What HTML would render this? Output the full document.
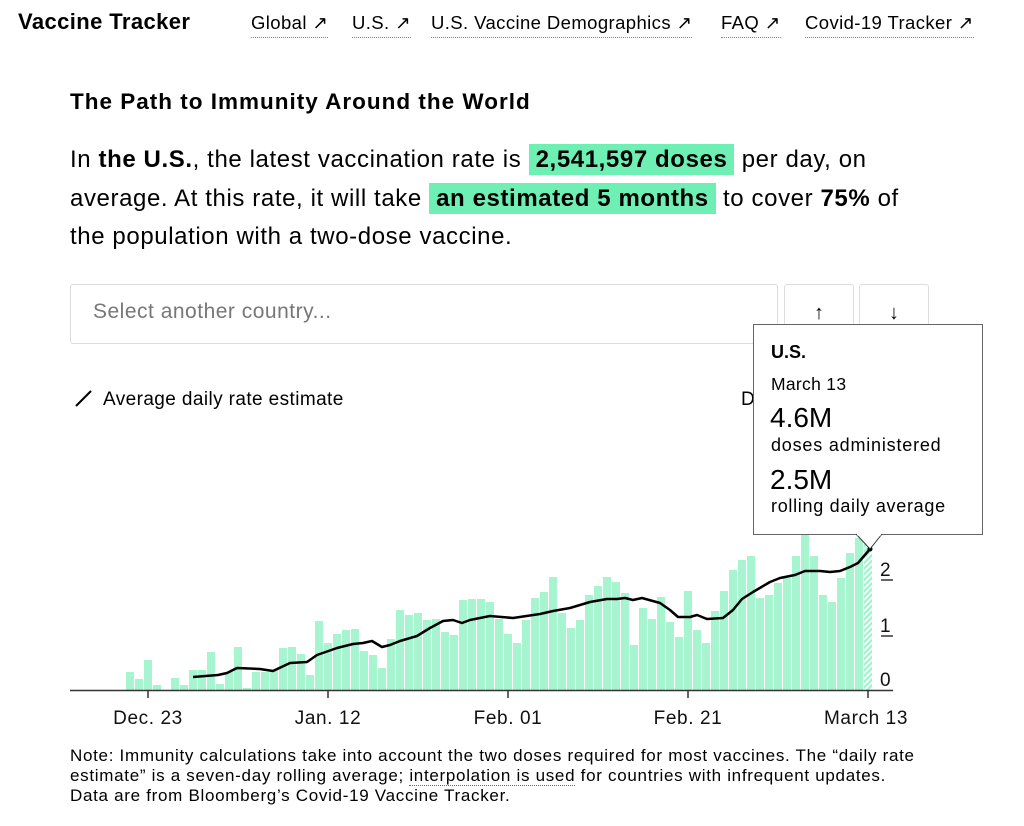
<!DOCTYPE html>
<html><head><meta charset="utf-8"><style>
body{margin:0;width:1024px;height:826px;background:#fff;font-family:"Liberation Sans",sans-serif;color:#000;position:relative;overflow:hidden}
.a{position:absolute;white-space:nowrap}
.nav{top:12px;font-size:18.5px;border-bottom:1px dotted #888;padding-bottom:3px;letter-spacing:0.4px}
.hl{background:#6ef0b4;font-weight:bold;padding:2px 7px}
.box{position:absolute;border:1px solid #ddd;border-radius:3px;background:#fff}
</style></head><body>
<div class="a" style="left:18px;top:9px;font-size:22px;font-weight:bold;letter-spacing:0.4px">Vaccine Tracker</div>
<div class="a nav" style="left:251px">Global ↗</div>
<div class="a nav" style="left:352px">U.S. ↗</div>
<div class="a nav" style="left:431px">U.S. Vaccine Demographics ↗</div>
<div class="a nav" style="left:721px">FAQ ↗</div>
<div class="a nav" style="left:805px">Covid-19 Tracker ↗</div>
<div class="a" style="left:70px;top:89px;font-size:22.5px;font-weight:bold;letter-spacing:1px">The Path to Immunity Around the World</div>
<div class="a" style="left:70px;top:141px;font-size:24px;line-height:38.5px;letter-spacing:0.6px">In <b>the U.S.</b>, the latest vaccination rate is <span class="hl">2,541,597 doses</span> per day, on<br>average. At this rate, it will take <span class="hl">an estimated 5 months</span> to cover <b>75%</b> of<br>the population with a two-dose vaccine.</div>
<div class="box" style="left:70px;top:284px;width:706px;height:58px"></div>
<div class="a" style="left:93px;top:300px;font-size:21px;color:#777;letter-spacing:0.5px">Select another country...</div>
<div class="box" style="left:784px;top:284px;width:68px;height:58px;text-align:center;font-size:20px;font-weight:bold;line-height:56px">↑</div>
<div class="box" style="left:859px;top:284px;width:68px;height:58px;text-align:center;font-size:20px;font-weight:bold;line-height:56px">↓</div>
<div class="a" style="left:103px;top:389px;font-size:19px;letter-spacing:0.4px">Average daily rate estimate</div>
<div class="a" style="left:741px;top:389px;font-size:19px">D</div>
<svg class="a" style="left:0;top:0" width="1024" height="826">
<line x1="76" y1="406" x2="91" y2="391" stroke="#000" stroke-width="2"/>
<defs><pattern id="h" width="4" height="4" patternUnits="userSpaceOnUse" patternTransform="rotate(45)"><rect width="2.2" height="4" fill="#9af5cb"/></pattern></defs>
<g fill="#a6f5d0">
<rect x="126" y="672" width="8" height="18"/><rect x="135" y="679" width="8" height="11"/><rect x="144" y="660" width="8" height="30"/><rect x="153" y="685" width="8" height="5"/>
<rect x="171" y="678" width="8" height="12"/><rect x="180" y="685" width="8" height="5"/><rect x="189" y="670" width="8" height="20"/><rect x="198" y="670" width="8" height="20"/><rect x="207" y="652" width="8" height="38"/><rect x="216" y="684" width="8" height="6"/><rect x="225" y="672" width="8" height="18"/><rect x="234" y="647" width="8" height="43"/><rect x="243" y="688" width="8" height="2"/><rect x="252" y="672" width="8" height="18"/><rect x="261" y="672" width="8" height="18"/><rect x="270" y="670" width="8" height="20"/><rect x="279" y="648" width="8" height="42"/><rect x="288" y="647" width="8" height="43"/><rect x="297" y="654" width="8" height="36"/><rect x="306" y="675" width="8" height="15"/><rect x="315" y="621" width="8" height="69"/><rect x="324" y="643" width="8" height="47"/><rect x="333" y="634" width="8" height="56"/><rect x="342" y="630" width="8" height="60"/><rect x="351" y="629" width="8" height="61"/><rect x="360" y="651" width="8" height="39"/><rect x="369" y="655" width="8" height="35"/><rect x="378" y="668" width="8" height="22"/><rect x="387" y="639" width="8" height="51"/><rect x="396" y="610" width="8" height="80"/><rect x="405" y="615" width="8" height="75"/><rect x="414" y="613" width="8" height="77"/><rect x="423" y="620" width="8" height="70"/><rect x="432" y="619" width="8" height="71"/><rect x="441" y="632" width="8" height="58"/><rect x="450" y="635" width="8" height="55"/><rect x="459" y="600" width="8" height="90"/><rect x="468" y="599" width="8" height="91"/><rect x="477" y="599" width="8" height="91"/><rect x="486" y="602" width="8" height="88"/><rect x="495" y="619" width="8" height="71"/><rect x="504" y="634" width="8" height="56"/><rect x="513" y="643" width="8" height="47"/><rect x="522" y="620" width="8" height="70"/><rect x="531" y="598" width="8" height="92"/><rect x="540" y="592" width="8" height="98"/><rect x="549" y="577" width="8" height="113"/><rect x="558" y="613" width="8" height="77"/><rect x="567" y="628" width="8" height="62"/><rect x="576" y="620" width="8" height="70"/><rect x="585" y="595" width="8" height="95"/><rect x="594" y="586" width="8" height="104"/><rect x="603" y="577" width="8" height="113"/><rect x="612" y="582" width="8" height="108"/><rect x="621" y="593" width="8" height="97"/><rect x="630" y="645" width="8" height="45"/><rect x="639" y="608" width="8" height="82"/><rect x="648" y="619" width="8" height="71"/><rect x="657" y="597" width="8" height="93"/><rect x="666" y="622" width="8" height="68"/><rect x="675" y="637" width="8" height="53"/><rect x="684" y="591" width="8" height="99"/><rect x="693" y="630" width="8" height="60"/><rect x="702" y="643" width="8" height="47"/><rect x="711" y="611" width="8" height="79"/><rect x="720" y="591" width="8" height="99"/><rect x="729" y="570" width="8" height="120"/><rect x="738" y="560" width="8" height="130"/><rect x="747" y="556" width="8" height="134"/><rect x="756" y="598" width="8" height="92"/><rect x="765" y="595" width="8" height="95"/><rect x="774" y="583" width="8" height="107"/><rect x="783" y="578" width="8" height="112"/><rect x="792" y="556" width="8" height="134"/><rect x="801" y="535" width="8" height="155"/><rect x="810" y="556" width="8" height="134"/><rect x="819" y="595" width="8" height="95"/><rect x="828" y="602" width="8" height="88"/><rect x="837" y="578" width="8" height="112"/><rect x="846" y="553" width="8" height="137"/><rect x="855" y="538" width="8" height="152"/>
</g>
<rect x="864" y="432" width="8" height="258" fill="url(#h)"/>
<polyline fill="none" stroke="#000" stroke-width="2.5" stroke-linejoin="round" points="193,677 218,675 227,673 237,668 260,669 273,671 290,663 307,662 317,655 337,648 353,644 363,643 372,641 382,647 390,645 400,641 417,636 430,628 443,621 453,620 462,623 470,620 490,616 513,618 540,614 553,611 570,608 590,602 607,599 617,599 625,598 633,600 642,598 660,603 670,610 678,617 690,617 697,615 707,619 723,618 733,610 742,599 753,592 770,582 780,578 795,575 805,571 820,571 830,572 840,571 850,567 858,563 870,549"/>
<circle cx="870" cy="549" r="2.5"/>
<line x1="70" y1="690.5" x2="893" y2="690.5" stroke="#333" stroke-width="1.5"/>
<g stroke="#333" stroke-width="1.5"><line x1="148" y1="690" x2="148" y2="698"/><line x1="328" y1="690" x2="328" y2="698"/><line x1="508" y1="690" x2="508" y2="698"/><line x1="688" y1="690" x2="688" y2="698"/><line x1="868" y1="690" x2="868" y2="698"/>
<line x1="881" y1="636" x2="893" y2="636"/><line x1="881" y1="580" x2="893" y2="580"/></g>
<g font-family="Liberation Sans" font-size="19" fill="#111" letter-spacing="0.6"><text x="880" y="686">0</text><text x="880" y="632">1</text><text x="880" y="576">2</text>
<text x="148" y="724" text-anchor="middle">Dec. 23</text><text x="328" y="724" text-anchor="middle">Jan. 12</text><text x="508" y="724" text-anchor="middle">Feb. 01</text><text x="688" y="724" text-anchor="middle">Feb. 21</text><text x="866" y="724" text-anchor="middle">March 13</text></g>
<rect x="753.5" y="324.5" width="229" height="210" fill="#fff" stroke="#666"/>
<polyline points="856,534 870,549 882,534" fill="#fff" stroke="#333"/>
<line x1="857" y1="534.5" x2="881" y2="534.5" stroke="#fff" stroke-width="2"/>
</svg>
<div class="a" style="left:771px;top:342px;font-size:18px;font-weight:bold">U.S.</div>
<div class="a" style="left:771px;top:374px;font-size:17.5px;letter-spacing:0.3px">March 13</div>
<div class="a" style="left:770px;top:402px;font-size:28px">4.6M</div>
<div class="a" style="left:771px;top:435px;font-size:18px;letter-spacing:0.8px">doses administered</div>
<div class="a" style="left:770px;top:464px;font-size:28px">2.5M</div>
<div class="a" style="left:771px;top:496px;font-size:18px;letter-spacing:0.7px">rolling daily average</div>
<div class="a" style="left:70px;top:746px;font-size:17px;line-height:20px;letter-spacing:0.7px">Note: Immunity calculations take into account the two doses required for most vaccines. The “daily rate<br>estimate” is a seven-day rolling average; <span style="border-bottom:1px dotted #666">interpolation is used</span> for countries with infrequent updates.<br>Data are from Bloomberg’s Covid-19 Vaccine Tracker.</div>
</body></html>
